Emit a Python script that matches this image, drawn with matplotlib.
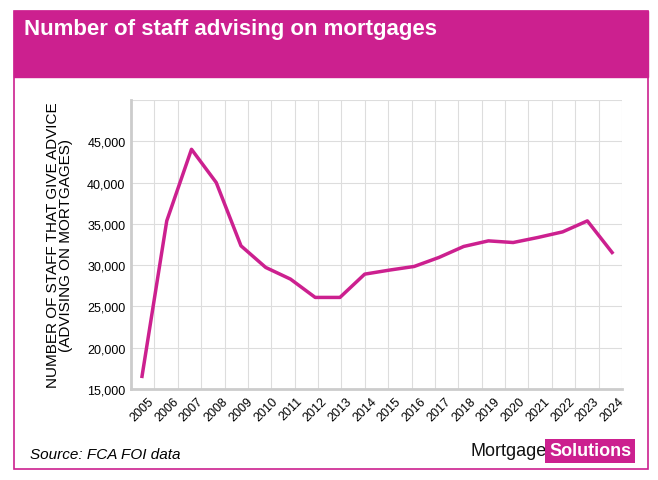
import numpy as np
import matplotlib.pyplot as plt
from matplotlib.patches import Rectangle

years = [str(y) for y in range(2005, 2025)]
staff = [16530, 35360, 44030, 40000, 32340, 29720, 28310, 26090, 26090, 28910,
         29400, 29840, 30930, 32260, 32940, 32740, 33350, 34030, 35360, 31530]
yticks = [15000, 20000, 25000, 30000, 35000, 40000, 45000]

pink = '#cc208f'
W, H = 658, 481
fig = plt.figure(figsize=(W / 100, H / 100), dpi=100)

# frame and header band
fig.patches.append(Rectangle((14 / W, 1 - 470 / H), 634 / W, 458 / H, transform=fig.transFigure,
                             facecolor='white', edgecolor=pink, lw=1.2, zorder=-2))
fig.patches.append(Rectangle((14 / W, 1 - 78 / H), 634 / W, 66 / H, transform=fig.transFigure,
                             facecolor=pink, edgecolor=pink, zorder=-1))
fig.text(24 / W, 1 - 30 / H, 'Number of staff advising on mortgages', color='white',
         fontsize=16, fontweight='bold', va='center', family='Liberation Sans')

ax = fig.add_axes([131 / W, 1 - 390 / H, (622 - 131) / W, (390 - 101) / H])
ax.set_zorder(5)
ax.patch.set_alpha(0)
x = np.arange(len(years))
left, right = -0.445, 19.40
ax.set_xlim(left, right)
ax.set_ylim(15000, 50000)
step = (right - left) / 21
for k in range(1, 22):
    ax.axvline(left + k * step, color='#dddddd', lw=0.8, zorder=0)
for v in yticks[1:] + [50000]:
    ax.axhline(v, color='#dddddd', lw=0.8, zorder=0)
ax.plot(x, staff, color=pink, lw=2.5, zorder=3)

ax.set_yticks(yticks)
ax.set_yticklabels([f'{v:,}' for v in yticks], fontsize=9, family='Liberation Sans')
ax.set_xticks(x)
ax.set_xticklabels(years, rotation=45, fontsize=9, family='Liberation Sans', ha='center')
ax.tick_params(length=0, pad=4)
for s in ['top', 'right']:
    ax.spines[s].set_visible(False)
for s in ['left', 'bottom']:
    ax.spines[s].set_color('#cccccc')
    ax.spines[s].set_linewidth(2)
ax.set_ylabel('NUMBER OF STAFF THAT GIVE ADVICE\n(ADVISING ON MORTGAGES)', fontsize=11,
              family='Liberation Sans', linespacing=0.95, labelpad=10)

fig.text(30 / W, 1 - 455 / H, 'Source: FCA FOI data', fontsize=11, style='italic',
         va='center', family='Liberation Sans')
fig.text(547 / W, 1 - 452 / H, 'Mortgage', fontsize=13, va='center', ha='right',
         family='Liberation Sans', color='#111111')
fig.text(549 / W, 1 - 452 / H, 'Solutions', fontsize=13, va='center', ha='left', fontweight='bold',
         family='Liberation Sans', color='white',
         bbox=dict(facecolor=pink, edgecolor='none', boxstyle='square,pad=0.2'))

fig.savefig('out.png', dpi=100)
